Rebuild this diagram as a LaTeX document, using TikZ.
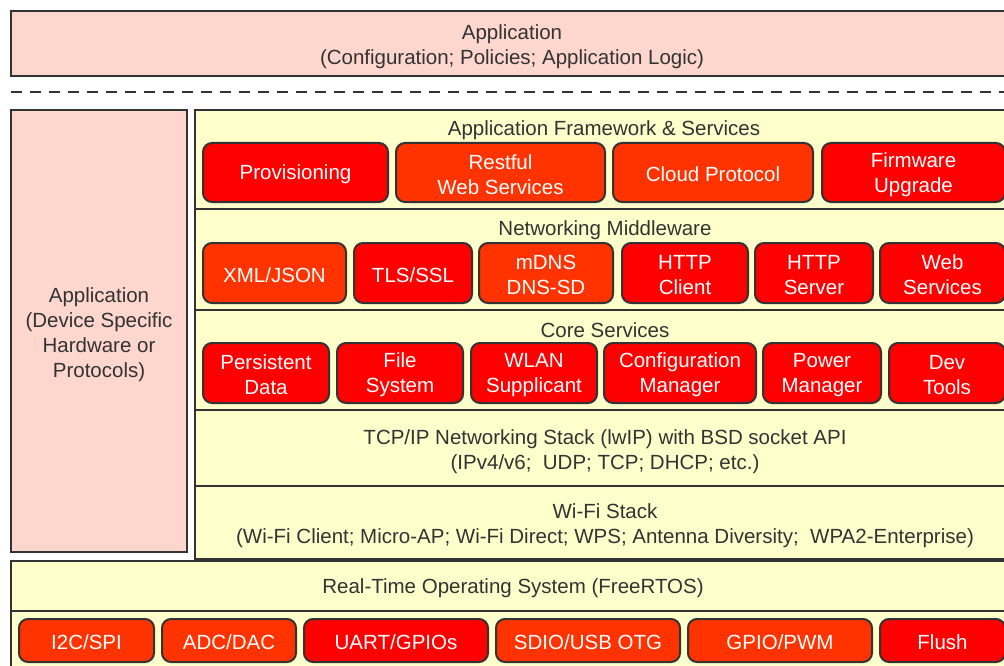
\documentclass[tikz,border=0pt]{standalone}
\usepackage{fontspec}
\setmainfont{Liberation Sans}
\definecolor{pinkF}{HTML}{FDD6CD}
\definecolor{yelF}{HTML}{FFFFCC}
\definecolor{redA}{HTML}{FF0000}
\definecolor{redB}{HTML}{FF3300}
\definecolor{edge}{HTML}{333333}
\definecolor{txt}{HTML}{333333}
\tikzset{
  rbox/.style={draw=edge, line width=2pt, rounded corners=9pt, inner sep=0pt},
  wtxt/.style={inner sep=0pt, align=center, text=white, font=\fontsize{20.5}{25}\selectfont},
  lbl/.style={inner sep=0pt, align=center, text=txt, font=\fontsize{20.5}{25}\selectfont},
  blk/.style={draw=edge, line width=2pt},
}
\newcommand{\rb}[7]{\node[rbox,fill=#6,minimum width={#4pt-#2pt},minimum height={#5pt-#3pt}] (#1) at ({(#2+#4)/2},{(#3+#5)/2}) {};
  \node[wtxt] (#1-t) at ({(#2+#4)/2},{(#3+#5)/2+1.8}) {#7};}
\begin{document}
\begin{tikzpicture}[x=1pt,y=-1pt]
\fill[white] (0,0) rectangle (1004,666);
\useasboundingbox (0,0) rectangle (1004,666);
\clip (0,0) rectangle (1004,666);
% top application
\draw[blk, fill=pinkF] (11,11) rectangle (1013,76);
\node[lbl] (topapp) at (512,46.5) {Application\\(Configuration; Policies; Application Logic)};
% dashed separator
\coordinate (dl) at (11,92);
\coordinate (dr) at (1010,92);
\draw[edge, line width=2.6pt, dash pattern=on 11pt off 8pt] (dl) -- (dr);
% left application
\draw[blk, fill=pinkF] (11,110) rectangle (187,552);
\node[lbl] (leftapp) at (99,334.5) {Application\\(Device Specific\\Hardware or\\Protocols)};
% yellow stack
\draw[blk, fill=yelF] (195,110) rectangle (1014,559);
\coordinate (d1l) at (195,209); \coordinate (d1r) at (1014,209);
\coordinate (d2l) at (195,310); \coordinate (d2r) at (1014,310);
\coordinate (d3l) at (195,410); \coordinate (d3r) at (1014,410);
\coordinate (d4l) at (195,486); \coordinate (d4r) at (1014,486);
\draw[blk] (d1l) -- (d1r);
\draw[blk] (d2l) -- (d2r);
\draw[blk] (d3l) -- (d3r);
\draw[blk] (d4l) -- (d4r);
% RTOS
\draw[blk, fill=yelF] (11,561) rectangle (1014,672);
\coordinate (d5l) at (11,611); \coordinate (d5r) at (1014,611);
\draw[blk] (d5l) -- (d5r);
% titles
\node[lbl] (afs) at (604,130) {Application Framework \& Services};
\node[lbl] (nmw) at (605,230) {Networking Middleware};
\node[lbl] (cs) at (605,330) {Core Services};
\node[lbl] (tcp) at (605,452) {TCP/IP Networking Stack (lwIP) with BSD socket API\\(IPv4/v6;\ \ UDP; TCP; DHCP; etc.)};
\node[lbl] (wifi) at (605,526) {Wi-Fi Stack\\(Wi-Fi Client; Micro-AP; Wi-Fi Direct; WPS; Antenna Diversity;\ \ WPA2-Enterprise)};
\node[lbl] (rtos) at (513,588) {Real-Time Operating System (FreeRTOS)};
% row 1
\rb{prov}{203}{143}{388}{202}{redA}{Provisioning}
\rb{rest}{396}{143}{605}{202}{redB}{Restful\\Web Services}
\rb{cloud}{613}{143}{813}{202}{redB}{Cloud Protocol}
\rb{fw}{822}{143}{1005}{202}{redA}{Firmware\\Upgrade}
% row 2
\rb{xml}{203}{243}{346}{303}{redB}{XML/JSON}
\rb{tls}{354}{243}{472}{303}{redA}{TLS/SSL}
\rb{mdns}{479}{243}{613}{303}{redB}{mDNS\\DNS-SD}
\rb{hcli}{622}{243}{748}{303}{redA}{HTTP\\Client}
\rb{hsrv}{755}{243}{873}{303}{redA}{HTTP\\Server}
\rb{wsvc}{880}{243}{1005}{303}{redA}{Web\\Services}
% row 3
\rb{pers}{203}{343}{329}{403}{redA}{Persistent\\Data}
\rb{fsys}{337}{343}{463}{403}{redA}{File\\System}
\rb{wlan}{471}{343}{597}{403}{redA}{WLAN\\Supplicant}
\rb{cfg}{604}{343}{756}{403}{redA}{Configuration\\Manager}
\rb{pwr}{763}{343}{881}{403}{redA}{Power\\Manager}
\rb{dev}{889}{343}{1005}{403}{redA}{Dev\\Tools}
% driver row
\rb{i2c}{19}{619}{154}{662}{redB}{I2C/SPI}
\rb{adc}{162}{619}{296}{662}{redB}{ADC/DAC}
\rb{uart}{304}{619}{488}{662}{redA}{UART/GPIOs}
\rb{sdio}{496}{619}{680}{662}{redB}{SDIO/USB OTG}
\rb{gpio}{688}{619}{872}{662}{redB}{GPIO/PWM}
\rb{flush}{880}{619}{1005}{662}{redA}{Flush}
\end{tikzpicture}
\end{document}
